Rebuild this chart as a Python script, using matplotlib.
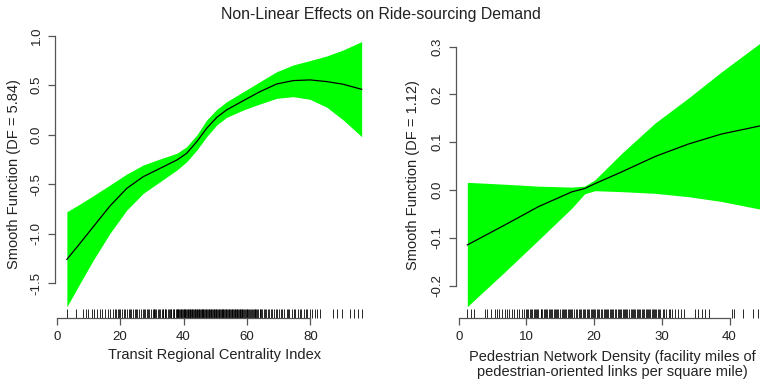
import matplotlib
matplotlib.use("Agg")
import matplotlib.pyplot as plt

plt.rcParams['font.family'] = ['Liberation Sans', 'DejaVu Sans']
plt.rcParams['axes.unicode_minus'] = False

title = "Non-Linear Effects on Ride-sourcing Demand"

# left panel: transit regional centrality index
tr_x = [3.2, 7.35, 11.55, 16.8, 22.1, 27.3, 32.6, 37.9, 41.0, 44.2, 47.3,
        50.5, 53.6, 58.9, 64.1, 69.4, 74.6, 79.9, 85.2, 90.4, 96.2]
tr_fit = [-1.259, -1.097, -0.929, -0.72, -0.542, -0.424, -0.34, -0.256, -0.188, -0.07, 0.064,
          0.175, 0.25, 0.344, 0.434, 0.512, 0.546, 0.553, 0.536, 0.509, 0.458]
tr_upper = [-0.778, -0.70, -0.616, -0.508, -0.397, -0.306, -0.245, -0.188, -0.121, -0.003, 0.148,
            0.256, 0.333, 0.434, 0.535, 0.636, 0.704, 0.748, 0.795, 0.856, 0.94]
tr_lower = [-1.737, -1.501, -1.266, -0.996, -0.761, -0.592, -0.475, -0.357, -0.273, -0.155, -0.02,
            0.098, 0.175, 0.25, 0.31, 0.367, 0.384, 0.357, 0.277, 0.148, -0.02]
tr_rug = [3.3, 6.1, 8.4, 9.1, 9.8, 11.2, 11.9, 12.6, 13.7, 14.4, 15.2, 16.1, 16.8,
          17.9, 18.6, 19.3, 20.1, 20.7, 21.5, 22.2, 22.8, 23.5, 24.1, 24.8, 25.4, 26.1,
          26.6, 27.4, 27.9, 28.5, 29.2, 29.7, 30.3, 30.8, 31.4, 31.9, 32.5, 33.1, 33.6,
          34.0, 34.6, 35.1, 35.7, 36.2, 36.6, 37.1, 37.5, 38.0, 38.4, 38.9, 39.3, 39.7,
          40.2, 40.6, 41.0, 41.5, 41.9, 42.3, 42.8, 43.2, 43.7, 44.1, 44.5, 45.0, 45.4,
          45.9, 46.3, 46.8, 47.2, 47.7, 48.1, 48.6, 49.0, 49.5, 49.9, 50.4, 50.8, 51.3,
          51.7, 52.2, 52.6, 53.1, 53.5, 54.0, 54.5, 54.9, 55.4, 55.8, 56.3, 56.8, 57.2,
          57.7, 58.1, 58.6, 59.1, 59.6, 60.1, 60.7, 61.2, 61.8, 62.4, 63.0, 63.5, 64.2,
          64.8, 65.5, 66.1, 66.9, 67.6, 68.4, 69.1, 70.0, 70.8, 71.7, 72.5, 73.4, 74.3,
          75.3, 76.2, 77.2, 78.1, 79.0, 79.8, 80.4, 81.5, 82.0, 83.1, 87.3, 88.3, 89.9,
          92.5, 93.8, 95.2, 96.3,
          # extra observations in the crowded middle
          18.3, 19.8, 21.1, 23.2, 25.0, 27.1, 28.8, 30.6, 31.1, 32.2, 33.4, 34.3, 35.4,
          36.0, 36.9, 37.8, 38.2, 38.7, 39.1, 39.5, 40.0, 40.4, 40.8, 41.3, 41.7, 42.1,
          42.6, 43.0, 43.5, 43.9, 44.3, 44.8, 45.2, 45.7, 46.1, 46.6, 47.0, 47.5, 47.9,
          48.4, 48.8, 49.3, 49.7, 50.2, 50.6, 51.1, 51.5, 52.0, 52.4, 52.9, 53.3, 53.8,
          54.3, 54.7, 55.2, 55.6, 56.1, 56.6, 57.0, 57.5, 57.9, 58.4, 58.9, 59.4, 59.9,
          60.4, 61.0, 61.5, 62.1, 62.7, 63.3, 64.0, 64.5, 65.8, 66.6, 67.9, 69.6, 71.2,
          73.0, 74.8, 76.8, 78.6]
tr_xticks = [0, 20, 40, 60, 80]
tr_yticks = [-1.5, -1.0, -0.5, 0.0, 0.5, 1.0]
tr_ylabels = ["-1.5", "-1.0", "-0.5", "0.0", "0.5", "1.0"]
tr_xlabel = "Transit Regional Centrality Index"
tr_ylabel = "Smooth Function (DF = 5.84)"

# right panel: pedestrian network density
pd_x = [1.27, 6.84, 11.76, 16.7, 18.6, 20.1, 24.1, 29.0, 33.9, 38.8, 44.5]
pd_fit = [-0.115, -0.073, -0.035, -0.004, 0.003, 0.013, 0.038, 0.07, 0.096, 0.117, 0.134]
pd_upper = [0.016, 0.012, 0.008, 0.006, 0.008, 0.021, 0.077, 0.14, 0.192, 0.247, 0.307]
pd_lower = [-0.244, -0.171, -0.105, -0.038, -0.008, -0.0015, -0.0035, -0.007, -0.014, -0.024, -0.040]
pd_rug = [1.27, 1.77, 2.26, 3.9, 4.2, 4.7, 5.4, 5.6, 6.0, 6.4, 6.8, 7.2, 7.5, 7.9,
          8.2, 8.6, 8.9, 9.3, 9.6, 9.9, 10.2, 10.5, 10.8, 11.2, 11.4, 11.7, 12.1, 12.3,
          12.6, 12.9, 13.3, 13.5, 13.8, 14.2, 14.4, 14.7, 15.0, 15.4, 15.6, 15.9, 16.3,
          16.5, 16.8, 17.1, 17.4, 17.7, 18.1, 18.3, 18.6, 18.9, 19.3, 19.5, 19.8, 20.2,
          20.4, 20.7, 21.0, 21.4, 21.6, 21.9, 22.3, 22.5, 22.8, 23.1, 23.5, 23.7, 24.0,
          24.4, 24.6, 24.9, 25.2, 25.6, 25.8, 26.1, 26.5, 26.7, 27.0, 27.4, 27.6, 27.9,
          28.3, 28.5, 28.8, 29.2, 29.4, 29.7, 30.1, 30.6, 31.0, 31.5, 31.9, 32.4, 32.8,
          33.3, 34.9, 35.4, 35.9, 36.4, 36.9, 40.3, 40.6, 42.0, 43.5, 44.2,
          # extra observations in the crowded middle
          10.05, 10.65, 11.05, 11.55, 12.2, 12.75, 13.1, 13.65, 14.05, 14.55, 15.2,
          15.75, 16.1, 16.65, 17.25, 17.85, 18.45, 19.05, 19.65, 20.05, 20.55, 21.2,
          21.75, 22.1, 22.65, 23.3, 23.85, 24.2, 24.75, 25.4, 25.95, 26.3, 26.85, 27.2,
          27.75, 28.1, 28.65, 29.05, 29.55, 30.3, 31.2]
pd_xticks = [0, 10, 20, 30, 40]
pd_yticks = [-0.2, -0.1, 0.0, 0.1, 0.2, 0.3]
pd_ylabels = ["-0.2", "-0.1", "0.0", "0.1", "0.2", "0.3"]
pd_xlabel = "Pedestrian Network Density (facility miles of\npedestrian-oriented links per square mile)"
pd_ylabel = "Smooth Function (DF = 1.12)"

axis_col = '#555555'
text_col = '#222222'
tick_fs = 9.5
lab_fs = 10.5

fig = plt.figure(figsize=(7.6, 3.84), dpi=100)
ax1 = fig.add_axes([0.0729, 0.1719, 0.4188, 0.7474])
ax2 = fig.add_axes([0.6, 0.1729, 0.4, 0.7419])


def panel(ax, x, fit, up, lo, rug, xt, yt, ylabs, xlim, ylim):
    ax.fill_between(x, lo, up, color='#00ff00', linewidth=0)
    ax.plot(x, fit, color='black', lw=0.9)
    ax.vlines(rug, 0, 0.03, transform=ax.get_xaxis_transform(),
              color='black', lw=0.7, alpha=0.85, clip_on=False)
    ax.set_xlim(*xlim)
    ax.set_ylim(*ylim)
    for s in ['top', 'right']:
        ax.spines[s].set_visible(False)
    for s in ['left', 'bottom']:
        ax.spines[s].set_color(axis_col)
        ax.spines[s].set_linewidth(0.9)
    ax.spines['left'].set_bounds(yt[0], yt[-1])
    ax.spines['bottom'].set_bounds(xt[0], xt[-1])
    ax.set_xticks(xt)
    ax.set_xticklabels([str(v) for v in xt])
    ax.set_yticks(yt)
    ax.set_yticklabels(ylabs, rotation=90, va='center')
    ax.tick_params(length=4.8, width=0.9, color=axis_col, pad=4.5,
                   labelsize=tick_fs, labelcolor=text_col)


panel(ax1, tr_x, tr_fit, tr_upper, tr_lower, tr_rug, tr_xticks, tr_yticks, tr_ylabels,
      (-0.42, 100.0), (-1.851, 1.047))
panel(ax2, pd_x, pd_fit, pd_upper, pd_lower, pd_rug, pd_xticks, pd_yticks, pd_ylabels,
      (-0.4, 44.5), (-0.267, 0.329))

ax1.set_xlabel(tr_xlabel, fontsize=lab_fs, color=text_col, va='center')
ax1.xaxis.set_label_coords(0.5, -0.129)
ax1.set_ylabel(tr_ylabel, fontsize=lab_fs, color=text_col, va='center')
ax1.yaxis.set_label_coords(-0.130, 0.5)

ax2.set_xlabel(pd_xlabel, fontsize=lab_fs, color=text_col, va='center', linespacing=1.1)
ax2.xaxis.set_label_coords(0.515, -0.165)
ax2.set_ylabel(pd_ylabel, fontsize=lab_fs, color=text_col, va='center')
ax2.yaxis.set_label_coords(-0.1414, 0.5)

fig.text(0.501, 1 - 14 / 384, title, ha='center', va='center', fontsize=11.4, color=text_col)

fig.savefig('out.png', dpi=100)
